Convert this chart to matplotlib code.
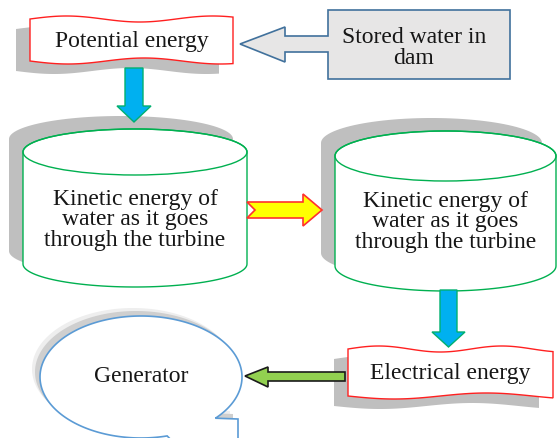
import numpy as np
import matplotlib.pyplot as plt
from matplotlib.patches import Polygon, Ellipse

# labels of the flow diagram
banner_labels = ["Potential energy", "Electrical energy"]
source_label = "Stored water in\ndam"
cylinder_labels = ["Kinetic energy of\nwater as it goes\nthrough the turbine",
                   "Kinetic energy of\nwater as it goes\nthrough the turbine"]
generator_label = "Generator"

W, H = 557, 439
fig = plt.figure(figsize=(W / 100, H / 100), dpi=100)
ax = fig.add_axes([0, 0, 1, 1])
ax.set_xlim(0, W)
ax.set_ylim(H, 0)
ax.axis("off")

FONT = dict(family="Liberation Serif", fontsize=17, color="#161616")
SHADOW = "#BFBFBF"


def wave_banner(x0, x1, y0, y1, text, amp=3.0, p_top=0.6, p_bot=0.85):
    t = np.linspace(0, 1, 80)
    xs = x0 + (x1 - x0) * t
    top = y0 - amp * np.sin(2 * np.pi * t / p_top)
    bot = y1 + amp * np.sin(2 * np.pi * t / p_bot)
    pts = np.vstack([np.column_stack([xs, top]), np.column_stack([xs[::-1], bot[::-1]])])
    sh = pts + np.array([-14, 10])
    ax.add_patch(Polygon(sh, closed=True, fc=SHADOW, ec="none", zorder=1))
    ax.add_patch(Polygon(pts, closed=True, fc="white", ec="#FF2020", lw=1.0, zorder=2))
    ax.text((x0 + x1) / 2, (y0 + y1) / 2, text, ha="center", va="center", zorder=3, **FONT)


def cylinder(x0, x1, ytop, ybot, ry, text, ty):
    cx = (x0 + x1) / 2
    rx = (x1 - x0) / 2
    a = np.linspace(np.pi, 2 * np.pi, 60)
    upper = np.column_stack([cx + rx * np.cos(a), ytop + ry * np.sin(a)])
    b = np.linspace(0, np.pi, 60)
    lower = np.column_stack([cx + rx * np.cos(b), ybot + ry * np.sin(b)])
    body = np.vstack([upper, lower])
    ax.add_patch(Polygon(body + np.array([-14, -13]), closed=True, fc=SHADOW, ec="none", zorder=1))
    ax.add_patch(Polygon(body, closed=True, fc="white", ec="#00B050", lw=1.0, zorder=2))
    ax.add_patch(Ellipse((cx, ytop), 2 * rx, 2 * ry, fc="none", ec="#00B050", lw=1.0, zorder=3))
    ax.text(cx, ty, text, ha="center", va="center", linespacing=0.98, zorder=4, **FONT)


def down_arrow(cx, ytop, yhead, ytip, sw, hw):
    pts = [(cx - sw / 2, ytop), (cx + sw / 2, ytop), (cx + sw / 2, yhead), (cx + hw / 2, yhead),
           (cx, ytip), (cx - hw / 2, yhead), (cx - sw / 2, yhead)]
    ax.add_patch(Polygon(pts, closed=True, fc="#00B0F0", ec="#00B070", lw=1.0, zorder=5))


# top row
wave_banner(30, 233, 20, 62, banner_labels[0], p_top=0.72, p_bot=0.75)
callout = [(328, 11), (510, 11), (510, 80), (328, 80), (328, 53), (285, 53), (285, 63),
           (240, 45), (285, 28), (285, 37), (328, 37)]
ax.add_patch(Polygon(callout, closed=True, fc="#E7E6E6", ec="#41719C", lw=1.2, zorder=2))
ax.text(414, 48, source_label, ha="center", va="center", linespacing=0.98, zorder=3, **FONT)

down_arrow(134, 69, 107, 123, 18, 34)

# cylinders
cylinder(23, 247, 153, 265, 23, cylinder_labels[0], 220)
cylinder(335, 556, 157, 267, 25, cylinder_labels[1], 222)

# yellow notched arrow
yellow = [(247, 203), (303, 203), (303, 195), (322, 211), (303, 227), (303, 219),
          (247, 219), (255, 211)]
ax.add_patch(Polygon(yellow, closed=True, fc="#FFFF00", ec="#FF3030", lw=1.2, zorder=5))

down_arrow(448.5, 291, 333, 348, 17, 33)

# bottom row
wave_banner(348, 553, 350, 397, banner_labels[1], p_top=0.6, p_bot=0.9)

green = [(345, 373), (268, 373), (268, 368), (245, 377), (268, 388), (268, 382), (345, 382)]
ax.add_patch(Polygon(green, closed=True, fc="#92D050", ec="#1A1A1A", lw=1.2, zorder=5))

# generator callout
gcx, gcy, grx, gry = 141, 378, 101, 61
th = np.radians(np.linspace(75, 360 + 42.5, 200))
ell = np.column_stack([gcx + grx * np.cos(th), gcy + gry * np.sin(th)])
gen = np.vstack([ell, [(238, 420), (238, 470), (200, 470)]])
ax.add_patch(Polygon(gen + np.array([-8, -8]), closed=True, fc="#EEEEEE", ec="none", zorder=1))
ax.add_patch(Polygon(gen + np.array([-5, -5]), closed=True, fc="#CFCFCF", ec="none", zorder=1))
ax.add_patch(Polygon(gen, closed=True, fc="white", ec="#5B9BD5", lw=1.2, zorder=2))
ax.text(141, 377, generator_label, ha="center", va="center", zorder=3, **FONT)

fig.savefig("out.png", dpi=100)
